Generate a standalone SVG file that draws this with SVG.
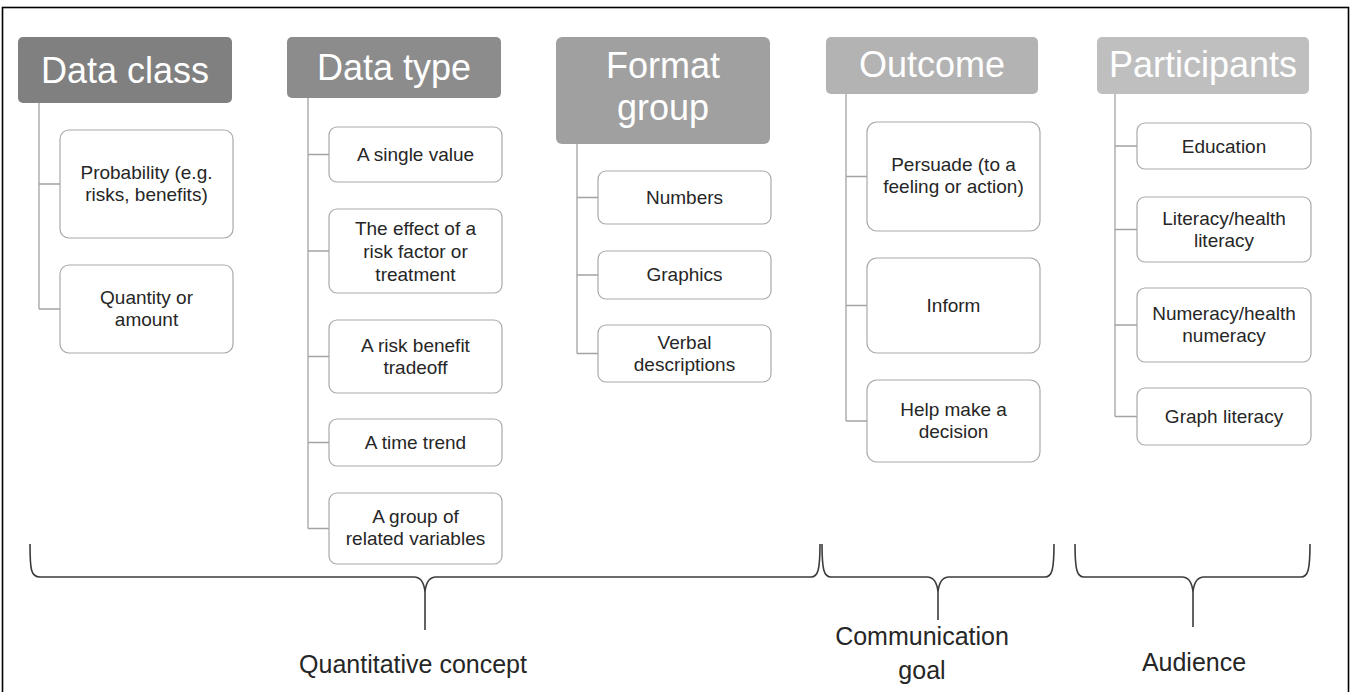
<svg xmlns="http://www.w3.org/2000/svg" width="1351" height="692" viewBox="0 0 1351 692">
  <style>
    .hdr { stroke: none; }
    .hdr-t { font-family: "Liberation Sans", Arial, sans-serif; font-size: 36px; fill: #ffffff; text-anchor: middle; }
    .box { fill: #ffffff; stroke: #a9a9a9; stroke-width: 1.2; }
    .box-t { font-family: "Liberation Sans", Arial, sans-serif; font-size: 19px; fill: #262626; text-anchor: middle; }
    .conn { fill: none; stroke: #a3a3a3; stroke-width: 1.3; }
    .brace { fill: none; stroke: #3c3c3c; stroke-width: 1.6; stroke-linejoin: round; }
    .lbl { font-family: "Liberation Sans", Arial, sans-serif; font-size: 25px; fill: #262626; text-anchor: middle; }
  </style>

  <rect width="1351" height="692" fill="#ffffff"/>
  <!-- outer frame -->
  <rect x="2.5" y="7.5" width="1346" height="700" fill="none" stroke="#000000" stroke-width="1.6"/>

  <!-- tree lines -->
  <g id="connectors">
    <path class="conn" d="M39,103 V309 M39,184 H60 M39,309 H60"/>
    <path class="conn" d="M308,98 V528.5 M308,154.5 H329 M308,251 H329 M308,356.5 H329 M308,442.5 H329 M308,528.5 H329"/>
    <path class="conn" d="M577,144 V353.5 M577,197.5 H598 M577,275 H598 M577,353.5 H598"/>
    <path class="conn" d="M846,94 V421 M846,176.5 H867 M846,305.5 H867 M846,421 H867"/>
    <path class="conn" d="M1115,94 V416.5 M1115,146 H1137 M1115,229.5 H1137 M1115,325 H1137 M1115,416.5 H1137"/>
  </g>

  <!-- column: Data class -->
  <g id="data-class">
    <rect class="hdr" x="18" y="37" width="214" height="66" rx="5" fill="#808080"/>
    <text class="hdr-t" x="125" y="83">Data class</text>
  </g>
  <g id="probability">
    <rect class="box" x="60" y="130" width="173" height="108" rx="9"/>
    <text class="box-t" x="146.5" y="179">Probability (e.g.<tspan x="146.5" dy="22">risks, benefits)</tspan></text>
  </g>
  <g id="quantity">
    <rect class="box" x="60" y="265" width="173" height="88" rx="9"/>
    <text class="box-t" x="146.5" y="304">Quantity or<tspan x="146.5" dy="22">amount</tspan></text>
  </g>

  <!-- column: Data type -->
  <g id="data-type">
    <rect class="hdr" x="287" y="37" width="214" height="61" rx="5" fill="#8c8c8c"/>
    <text class="hdr-t" x="394" y="80">Data type</text>
  </g>
  <g id="single-value">
    <rect class="box" x="329" y="127" width="173" height="55" rx="8"/>
    <text class="box-t" x="415.5" y="161">A single value</text>
  </g>
  <g id="effect">
    <rect class="box" x="329" y="209" width="173" height="84" rx="8"/>
    <text class="box-t" x="415.5" y="235">The effect of a<tspan x="415.5" dy="23">risk factor or</tspan><tspan x="415.5" dy="23">treatment</tspan></text>
  </g>
  <g id="tradeoff">
    <rect class="box" x="329" y="320" width="173" height="73" rx="8"/>
    <text class="box-t" x="415.5" y="352">A risk benefit<tspan x="415.5" dy="22">tradeoff</tspan></text>
  </g>
  <g id="time-trend">
    <rect class="box" x="329" y="419" width="173" height="47" rx="8"/>
    <text class="box-t" x="415.5" y="449">A time trend</text>
  </g>
  <g id="group-vars">
    <rect class="box" x="329" y="493" width="173" height="71" rx="8"/>
    <text class="box-t" x="415.5" y="523">A group of<tspan x="415.5" dy="22">related variables</tspan></text>
  </g>

  <!-- column: Format group -->
  <g id="format-group">
    <rect class="hdr" x="556" y="37" width="214" height="107" rx="6" fill="#a0a0a0"/>
    <text class="hdr-t" x="663" y="78">Format<tspan x="663" dy="42">group</tspan></text>
  </g>
  <g id="numbers">
    <rect class="box" x="598" y="171" width="173" height="53" rx="8"/>
    <text class="box-t" x="684.5" y="204">Numbers</text>
  </g>
  <g id="graphics">
    <rect class="box" x="598" y="251" width="173" height="48" rx="8"/>
    <text class="box-t" x="684.5" y="281">Graphics</text>
  </g>
  <g id="verbal">
    <rect class="box" x="598" y="325" width="173" height="57" rx="8"/>
    <text class="box-t" x="684.5" y="349">Verbal<tspan x="684.5" dy="22">descriptions</tspan></text>
  </g>

  <!-- column: Outcome -->
  <g id="outcome">
    <rect class="hdr" x="826" y="37" width="212" height="57" rx="5" fill="#b3b3b3"/>
    <text class="hdr-t" x="932" y="77">Outcome</text>
  </g>
  <g id="persuade">
    <rect class="box" x="867" y="122" width="173" height="109" rx="10"/>
    <text class="box-t" x="953.5" y="171">Persuade (to a<tspan x="953.5" dy="22">feeling or action)</tspan></text>
  </g>
  <g id="inform">
    <rect class="box" x="867" y="258" width="173" height="95" rx="10"/>
    <text class="box-t" x="953.5" y="312">Inform</text>
  </g>
  <g id="decision">
    <rect class="box" x="867" y="380" width="173" height="82" rx="10"/>
    <text class="box-t" x="953.5" y="416">Help make a<tspan x="953.5" dy="22">decision</tspan></text>
  </g>

  <!-- column: Participants -->
  <g id="participants">
    <rect class="hdr" x="1097" y="37" width="212" height="57" rx="5" fill="#bfbfbf"/>
    <text class="hdr-t" x="1203" y="77">Participants</text>
  </g>
  <g id="education">
    <rect class="box" x="1137" y="123" width="174" height="46" rx="8"/>
    <text class="box-t" x="1224" y="153">Education</text>
  </g>
  <g id="literacy">
    <rect class="box" x="1137" y="197" width="174" height="65" rx="8"/>
    <text class="box-t" x="1224" y="225">Literacy/health<tspan x="1224" dy="22">literacy</tspan></text>
  </g>
  <g id="numeracy">
    <rect class="box" x="1137" y="288" width="174" height="74" rx="8"/>
    <text class="box-t" x="1224" y="320">Numeracy/health<tspan x="1224" dy="22">numeracy</tspan></text>
  </g>
  <g id="graph-literacy">
    <rect class="box" x="1137" y="388" width="174" height="57" rx="8"/>
    <text class="box-t" x="1224" y="423">Graph literacy</text>
  </g>

  <!-- grouping braces -->
  <g id="braces">
    <path class="brace" d="M30,544 C30,570 31,577 40,577 L414,577 C421,577 424,582 425,592 C426,582 429,577 436,577 L811,577 C818,577 820,570 820,544 M425,592 V630"/>
    <path class="brace" d="M822,544 C822,570 824,577 831,577 L927,577 C934,577 937,582 938,592 C939,582 942,577 949,577 L1045,577 C1052,577 1054,570 1054,544 M938,592 V620"/>
    <path class="brace" d="M1075,544 C1075,570 1077,577 1084,577 L1182,577 C1189,577 1192,582 1193,592 C1194,582 1197,577 1204,577 L1301,577 C1308,577 1310,570 1310,544 M1193,592 V627"/>
  </g>

  <!-- brace labels -->
  <g id="labels">
    <text class="lbl" x="413" y="673">Quantitative concept</text>
    <text class="lbl" x="922" y="645">Communication<tspan x="922" dy="34">goal</tspan></text>
    <text class="lbl" x="1194" y="671">Audience</text>
  </g>
</svg>
